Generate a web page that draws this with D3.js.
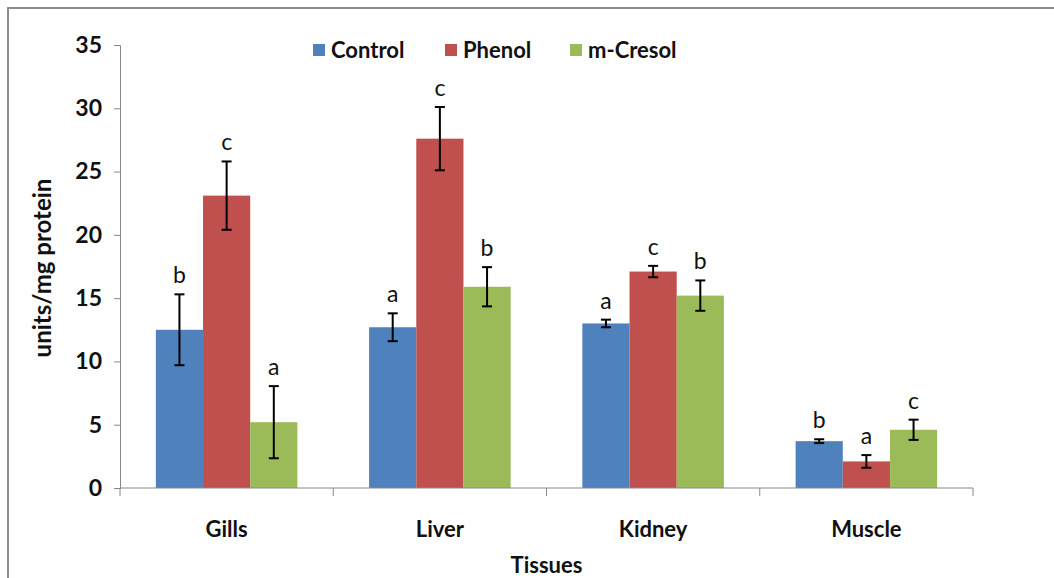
<!DOCTYPE html>
<html>
<head>
<meta charset="utf-8">
<script src="https://cdn.jsdelivr.net/npm/d3@7"></script>
<style>
  body { margin: 0; background: #fff; }
  svg { display: block; font-family: Lato, "Open Sans", sans-serif; }
</style>
</head>
<body>
<svg id="chart" width="1054" height="578"></svg>
<script>
// data
var tissues = ["Gills", "Liver", "Kidney", "Muscle"];
var groups = ["Control", "Phenol", "m-Cresol"];
var colors = ["#4F81BD", "#C0504D", "#9BBB59"];
var control = [12.5, 12.7, 13.0, 3.7];
var phenol = [23.1, 27.6, 17.1, 2.1];
var cresol = [5.2, 15.9, 15.2, 4.6];
var controlErr = [2.8, 1.1, 0.3, 0.15];
var phenolErr = [2.7, 2.5, 0.45, 0.5];
var cresolErr = [2.85, 1.55, 1.2, 0.8];
var controlSig = ["b", "a", "a", "b"];
var phenolSig = ["c", "c", "c", "a"];
var cresolSig = ["a", "b", "b", "c"];
var yTicks = [0, 5, 10, 15, 20, 25, 30, 35];

var values = [control, phenol, cresol];
var errors = [controlErr, phenolErr, cresolErr];
var sigs = [controlSig, phenolSig, cresolSig];

var svg = d3.select("#chart");
var plotLeft = 120, plotRight = 973, plotTop = 45, plotBottom = 488;

// outer frame (only top and left edges show)
svg.append("path")
  .attr("d", "M8,578V8H1054")
  .attr("fill", "none")
  .attr("stroke", "#8c8c8c")
  .attr("stroke-width", 2);

var x = d3.scaleBand().domain(tissues).range([plotLeft, plotRight]).paddingInner(0).paddingOuter(0);
var inner = d3.scaleBand().domain(groups).range([0, x.bandwidth()]).paddingInner(0).paddingOuter(0.76);
var y = d3.scaleLinear().domain([0, 35]).range([plotBottom, plotTop]);

// y axis
var yAxis = svg.append("g")
  .attr("transform", "translate(" + plotLeft + ",0)")
  .call(d3.axisLeft(y).tickValues(yTicks).tickSize(6).tickPadding(12));
yAxis.select(".domain").attr("stroke", "#888");
yAxis.selectAll(".tick line").attr("stroke", "#888");
yAxis.selectAll(".tick text")
  .attr("fill", "#111")
  .style("font-family", "Lato, sans-serif")
  .style("font-size", "23px")
  .style("font-weight", "bold");

// bars
tissues.forEach(function(t, i) {
  groups.forEach(function(g, j) {
    var v = values[j][i];
    svg.append("rect")
      .attr("x", x(t) + inner(g))
      .attr("y", y(v))
      .attr("width", inner.bandwidth())
      .attr("height", y(0) - y(v))
      .attr("fill", colors[j]);
  });
});

// x axis
var xAxis = svg.append("g")
  .attr("transform", "translate(0," + plotBottom + ")");
xAxis.append("line")
  .attr("x1", plotLeft).attr("x2", plotRight)
  .attr("stroke", "#888");
d3.range(tissues.length + 1).forEach(function(k) {
  var tx = plotLeft + k * x.step();
  xAxis.append("line")
    .attr("x1", tx).attr("x2", tx)
    .attr("y1", 0).attr("y2", 8)
    .attr("stroke", "#888");
});
xAxis.selectAll("text.cat")
  .data(tissues)
  .enter().append("text")
  .attr("class", "cat")
  .attr("x", function(d) { return x(d) + x.bandwidth() / 2; })
  .attr("y", 49)
  .attr("text-anchor", "middle")
  .attr("fill", "#111")
  .style("font-size", "22px")
  .style("font-weight", "bold")
  .text(function(d) { return d; });

// error bars and letters
tissues.forEach(function(t, i) {
  groups.forEach(function(g, j) {
    var v = values[j][i], e = errors[j][i];
    var cx = x(t) + inner(g) + inner.bandwidth() / 2;
    var eb = svg.append("g").attr("stroke", "#000").attr("stroke-width", 2);
    eb.append("line").attr("x1", cx).attr("x2", cx).attr("y1", y(v + e)).attr("y2", y(v - e));
    eb.append("line").attr("x1", cx - 5).attr("x2", cx + 5).attr("y1", y(v + e)).attr("y2", y(v + e));
    eb.append("line").attr("x1", cx - 5).attr("x2", cx + 5).attr("y1", y(v - e)).attr("y2", y(v - e));
    svg.append("text")
      .attr("x", cx)
      .attr("y", y(v + e) - 11)
      .attr("text-anchor", "middle")
      .attr("fill", "#111")
      .style("font-size", "23px")
      .text(sigs[j][i]);
  });
});

// axis titles
svg.append("text")
  .attr("transform", "translate(51,268) rotate(-90)")
  .attr("text-anchor", "middle")
  .attr("fill", "#111")
  .style("font-size", "24px")
  .style("font-weight", "bold")
  .text("units/mg protein");

svg.append("text")
  .attr("x", (plotLeft + plotRight) / 2)
  .attr("y", 573)
  .attr("text-anchor", "middle")
  .attr("fill", "#111")
  .style("font-size", "22px")
  .style("font-weight", "bold")
  .text("Tissues");

// legend
var legendX = [313, 445, 570];
var legend = svg.append("g");
groups.forEach(function(g, j) {
  legend.append("rect")
    .attr("x", legendX[j]).attr("y", 44)
    .attr("width", 12).attr("height", 12)
    .attr("fill", colors[j]);
  legend.append("text")
    .attr("x", legendX[j] + 18).attr("y", 58)
    .attr("fill", "#111")
    .style("font-size", "22px")
    .style("font-weight", "bold")
    .text(g);
});
</script>
</body>
</html>
